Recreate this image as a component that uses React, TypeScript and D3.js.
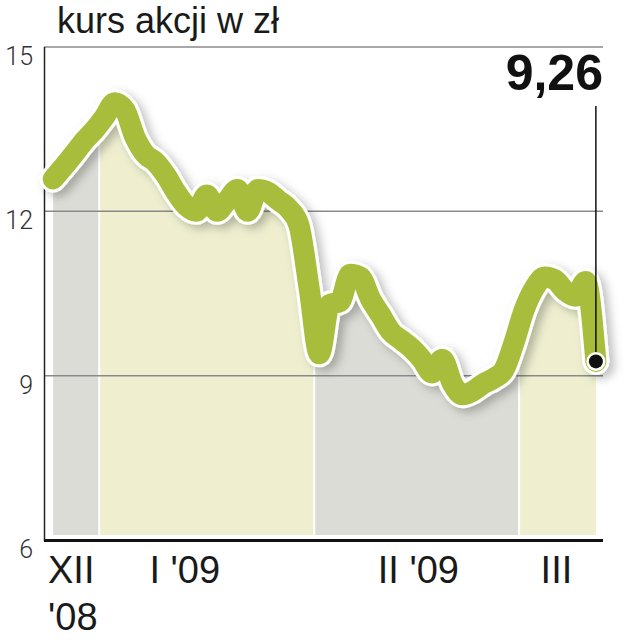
import * as d3 from "d3";

const WIDTH = 644;
const HEIGHT = 640;

// trading days per month, Dec '08 .. Mar '09
const MONTHS = ["XII", "I", "II", "III"];
const MONTH_DAYS = [5, 21, 20, 8];
const MONTH_FILL = ["#dcdcd6", "#efefd0", "#dcdcd6", "#efefd0"];

// close prices, zl
const PRICES = [
  12.59, 12.81, 13.04, 13.28, 13.48,
  13.72, 13.98, 13.85, 13.35, 13.04, 12.9, 12.66, 12.35, 12.1, 12.0, 12.3,
  12.0, 12.2, 12.4, 12.0, 12.4, 12.35, 12.2, 12.05, 11.75, 10.6,
  9.4, 10.3, 10.35, 10.85, 10.8, 10.4, 10.1, 9.8, 9.65, 9.5, 9.3, 9.05, 9.3,
  8.85, 8.65, 8.72, 8.85, 8.95, 9.1,
  9.6, 10.2, 10.6, 10.8, 10.75, 10.55, 10.45, 10.72, 9.26,
];

const Y_TICKS = [6, 9, 12, 15];
// x labels: first line, second line, index where the label starts
const X_LABELS = [
  { line1: "XII", line2: "'08", at: -0.5 },
  { line1: "I '09", line2: "", at: 9.4 },
  { line1: "II '09", line2: "", at: 31.7 },
  { line1: "III", line2: "", at: 47.6 },
];
const LAST_LABEL = "9,26";

const GREEN = "#a9bd3c";

export default function App() {
  const n = PRICES.length;
  const x = d3.scaleLinear().domain([-0.5, n - 0.5]).range([48, 601]);
  const y = d3.scaleLinear().domain([6, 15]).range([540, 47]);

  const line = d3
    .line<number>()
    .x((_, i) => x(i))
    .y((d) => y(d))
    .curve(d3.curveMonotoneX);

  const area = d3
    .area<number>()
    .x((_, i) => x(i))
    .y0(y(6) - 5)
    .y1((d) => y(d))
    .curve(d3.curveMonotoneX);

  // month bands
  let start = 0;
  const bands = MONTH_DAYS.map((c, k) => {
    const b = { x0: x(start - 0.5), x1: x(start + c - 0.5), fill: MONTH_FILL[k], name: MONTHS[k] };
    start += c;
    return b;
  });

  const lastX = x(n - 1);
  const lastY = y(PRICES[n - 1]);

  return (
    <svg
      width={WIDTH}
      height={HEIGHT}
      style={{ position: "absolute", left: 0, top: 0, background: "#fff" }}
    >
      <defs>
        <clipPath id="under">
          <path d={area(PRICES) ?? ""} />
        </clipPath>
        <filter id="shadow" x="-10%" y="-10%" width="130%" height="140%">
          <feDropShadow dx={5} dy={4} stdDeviation={5} floodColor="#000" floodOpacity={0.25} />
        </filter>
      </defs>

      <text x={57} y={33} fontFamily="Liberation Sans, Arial, sans-serif" fontSize={36} fill="#1a1a1a">
        kurs akcji w zł
      </text>

      <g clipPath="url(#under)">
        {bands.map((b) => (
          <rect key={b.name} x={b.x0 + 1} y={0} width={b.x1 - b.x0 - 2} height={HEIGHT} fill={b.fill} />
        ))}
      </g>

      {Y_TICKS.filter((t) => t > 6).map((t) => (
        <line key={t} x1={44} x2={603} y1={y(t)} y2={y(t)} stroke="#8a8a8a" strokeWidth={1.5} />
      ))}

      {Y_TICKS.map((t) => (
        <text
          key={t}
          x={33}
          y={y(t) + 18}
          textAnchor="end"
          fontFamily="Roboto, Liberation Sans, sans-serif"
          fontWeight={300}
          fontSize={25}
          fill="#333"
        >
          {t}
        </text>
      ))}

      <line x1={44.5} x2={44.5} y1={y(15)} y2={y(6) + 1} stroke="#222" strokeWidth={1.5} />
      <line x1={44} x2={603} y1={y(6) + 0.5} y2={y(6) + 0.5} stroke="#111" strokeWidth={3} />

      <g filter="url(#shadow)">
        <path
          d={line(PRICES) ?? ""}
          fill="none"
          stroke="#fff"
          strokeWidth={27}
          strokeLinejoin="round"
          strokeLinecap="round"
        />
        <path
          d={line(PRICES) ?? ""}
          fill="none"
          stroke={GREEN}
          strokeWidth={21}
          strokeLinejoin="round"
          strokeLinecap="round"
        />
      </g>

      <line x1={lastX} x2={lastX} y1={106} y2={lastY} stroke="#111" strokeWidth={1.5} />
      <circle cx={lastX} cy={lastY} r={9.5} fill="#fff" />
      <circle cx={lastX} cy={lastY} r={7} fill="#111" />
      <text
        x={603}
        y={90}
        textAnchor="end"
        fontFamily="Liberation Sans, Arial, sans-serif"
        fontWeight="bold"
        fontSize={50}
        fill="#111"
      >
        {LAST_LABEL}
      </text>

      {X_LABELS.map((l) => (
        <text
          key={l.line1}
          x={x(l.at)}
          y={583}
          fontFamily="Liberation Sans, Arial, sans-serif"
          fontSize={38}
          fill="#1a1a1a"
        >
          <tspan x={x(l.at)} y={583}>{l.line1}</tspan>
          {l.line2 && (
            <tspan x={x(l.at)} y={630}>
              {l.line2}
            </tspan>
          )}
        </text>
      ))}
    </svg>
  );
}
